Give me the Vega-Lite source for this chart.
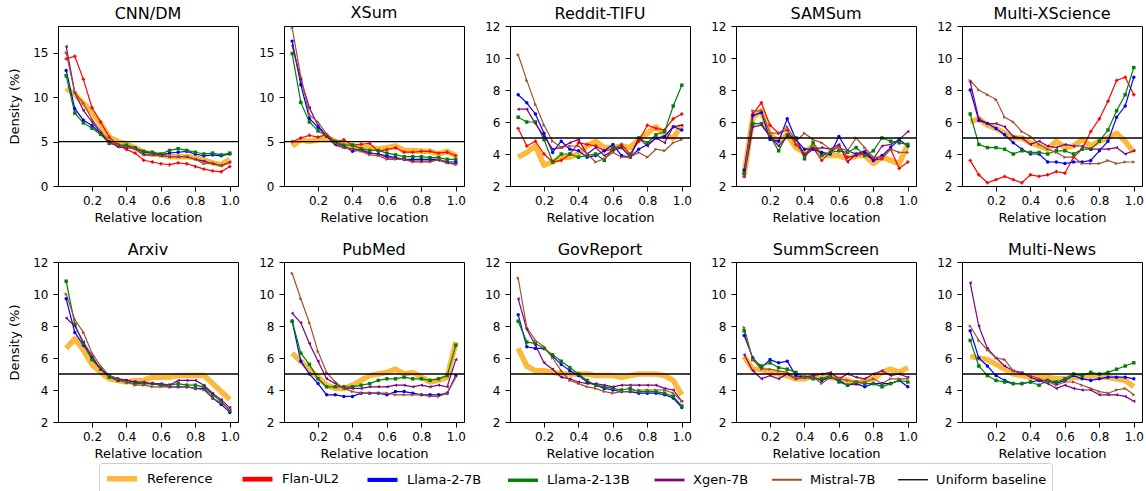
{
"$schema": "https://vega.github.io/schema/vega-lite/v6.json",
"padding": {"left": 8, "top": 4, "right": 4, "bottom": 0},
"config": {
 "font": "DejaVu Sans",
 "view": {"stroke": "#000", "strokeWidth": 1},
 "axis": {"grid": false, "domainColor": "#000", "tickColor": "#000", "labelColor": "#000", "titleColor": "#000", "labelFontSize": 12, "titleFontSize": 13, "titleFontWeight": "normal", "tickSize": 5, "labelOverlap": false, "labelFont": "DejaVu Sans", "titleFont": "DejaVu Sans"},
 "axisX": {"titlePadding": 5, "labelPadding": 4},
 "axisY": {"titlePadding": 11, "labelPadding": 5},
 "title": {"fontSize": 16, "fontWeight": "normal", "font": "DejaVu Sans", "color": "#000", "offset": 4, "frame": "group"},
 "legend": {"orient": "bottom", "direction": "horizontal", "symbolType": "M-1,0H3", "symbolSize": 225, "labelFontSize": 13, "labelFont": "DejaVu Sans", "labelColor": "#000", "columnPadding": 19, "labelOffset": 22, "strokeColor": "#cccccc", "padding": 5, "cornerRadius": 3, "offset": 2, "layout": {"bottom": {"anchor": "middle", "bounds": "full"}}}
},
"datasets": {
"cnndm": [
{"m":"Reference","x":0.05,"y":11.0},{"m":"Reference","x":0.1,"y":10.3},{"m":"Reference","x":0.15,"y":9.3},{"m":"Reference","x":0.2,"y":8.3},{"m":"Reference","x":0.25,"y":7.0},{"m":"Reference","x":0.3,"y":5.5},{"m":"Reference","x":0.35,"y":5.0},{"m":"Reference","x":0.4,"y":4.7},{"m":"Reference","x":0.45,"y":4.3},{"m":"Reference","x":0.5,"y":3.8},{"m":"Reference","x":0.55,"y":3.6},{"m":"Reference","x":0.6,"y":3.5},{"m":"Reference","x":0.65,"y":3.3},{"m":"Reference","x":0.7,"y":3.3},{"m":"Reference","x":0.75,"y":3.3},{"m":"Reference","x":0.8,"y":3.2},{"m":"Reference","x":0.85,"y":2.9},{"m":"Reference","x":0.9,"y":2.6},{"m":"Reference","x":0.95,"y":2.4},{"m":"Reference","x":1,"y":3.0},
{"m":"Flan-UL2","x":0.05,"y":14.3},{"m":"Flan-UL2","x":0.1,"y":14.6},{"m":"Flan-UL2","x":0.15,"y":12.0},{"m":"Flan-UL2","x":0.2,"y":8.8},{"m":"Flan-UL2","x":0.25,"y":7.2},{"m":"Flan-UL2","x":0.3,"y":5.5},{"m":"Flan-UL2","x":0.35,"y":4.6},{"m":"Flan-UL2","x":0.4,"y":4.1},{"m":"Flan-UL2","x":0.45,"y":3.7},{"m":"Flan-UL2","x":0.5,"y":2.9},{"m":"Flan-UL2","x":0.55,"y":2.7},{"m":"Flan-UL2","x":0.6,"y":2.5},{"m":"Flan-UL2","x":0.65,"y":2.4},{"m":"Flan-UL2","x":0.7,"y":2.6},{"m":"Flan-UL2","x":0.75,"y":2.5},{"m":"Flan-UL2","x":0.8,"y":2.2},{"m":"Flan-UL2","x":0.85,"y":1.9},{"m":"Flan-UL2","x":0.9,"y":1.7},{"m":"Flan-UL2","x":0.95,"y":1.6},{"m":"Flan-UL2","x":1,"y":2.2},
{"m":"Llama-2-7B","x":0.05,"y":13.0},{"m":"Llama-2-7B","x":0.1,"y":8.7},{"m":"Llama-2-7B","x":0.15,"y":7.4},{"m":"Llama-2-7B","x":0.2,"y":6.8},{"m":"Llama-2-7B","x":0.25,"y":5.9},{"m":"Llama-2-7B","x":0.3,"y":5.0},{"m":"Llama-2-7B","x":0.35,"y":4.6},{"m":"Llama-2-7B","x":0.4,"y":4.5},{"m":"Llama-2-7B","x":0.45,"y":4.3},{"m":"Llama-2-7B","x":0.5,"y":3.8},{"m":"Llama-2-7B","x":0.55,"y":3.7},{"m":"Llama-2-7B","x":0.6,"y":3.5},{"m":"Llama-2-7B","x":0.65,"y":3.7},{"m":"Llama-2-7B","x":0.7,"y":3.8},{"m":"Llama-2-7B","x":0.75,"y":3.9},{"m":"Llama-2-7B","x":0.8,"y":3.6},{"m":"Llama-2-7B","x":0.85,"y":3.4},{"m":"Llama-2-7B","x":0.9,"y":3.5},{"m":"Llama-2-7B","x":0.95,"y":3.4},{"m":"Llama-2-7B","x":1,"y":3.6},
{"m":"Llama-2-13B","x":0.05,"y":12.4},{"m":"Llama-2-13B","x":0.1,"y":8.2},{"m":"Llama-2-13B","x":0.15,"y":7.1},{"m":"Llama-2-13B","x":0.2,"y":6.5},{"m":"Llama-2-13B","x":0.25,"y":5.8},{"m":"Llama-2-13B","x":0.3,"y":4.8},{"m":"Llama-2-13B","x":0.35,"y":4.6},{"m":"Llama-2-13B","x":0.4,"y":4.6},{"m":"Llama-2-13B","x":0.45,"y":4.3},{"m":"Llama-2-13B","x":0.5,"y":3.9},{"m":"Llama-2-13B","x":0.55,"y":3.8},{"m":"Llama-2-13B","x":0.6,"y":3.6},{"m":"Llama-2-13B","x":0.65,"y":4.0},{"m":"Llama-2-13B","x":0.7,"y":4.2},{"m":"Llama-2-13B","x":0.75,"y":4.0},{"m":"Llama-2-13B","x":0.8,"y":3.8},{"m":"Llama-2-13B","x":0.85,"y":3.6},{"m":"Llama-2-13B","x":0.9,"y":3.7},{"m":"Llama-2-13B","x":0.95,"y":3.5},{"m":"Llama-2-13B","x":1,"y":3.7},
{"m":"Xgen-7B","x":0.05,"y":15.7},{"m":"Xgen-7B","x":0.1,"y":10.5},{"m":"Xgen-7B","x":0.15,"y":8.5},{"m":"Xgen-7B","x":0.2,"y":7.2},{"m":"Xgen-7B","x":0.25,"y":6.0},{"m":"Xgen-7B","x":0.3,"y":5.0},{"m":"Xgen-7B","x":0.35,"y":4.4},{"m":"Xgen-7B","x":0.4,"y":4.3},{"m":"Xgen-7B","x":0.45,"y":4.2},{"m":"Xgen-7B","x":0.5,"y":3.5},{"m":"Xgen-7B","x":0.55,"y":3.5},{"m":"Xgen-7B","x":0.6,"y":3.4},{"m":"Xgen-7B","x":0.65,"y":3.3},{"m":"Xgen-7B","x":0.7,"y":3.3},{"m":"Xgen-7B","x":0.75,"y":3.3},{"m":"Xgen-7B","x":0.8,"y":3.0},{"m":"Xgen-7B","x":0.85,"y":2.8},{"m":"Xgen-7B","x":0.9,"y":2.5},{"m":"Xgen-7B","x":0.95,"y":2.3},{"m":"Xgen-7B","x":1,"y":2.7},
{"m":"Mistral-7B","x":0.05,"y":15.0},{"m":"Mistral-7B","x":0.1,"y":10.5},{"m":"Mistral-7B","x":0.15,"y":9.3},{"m":"Mistral-7B","x":0.2,"y":7.5},{"m":"Mistral-7B","x":0.25,"y":6.2},{"m":"Mistral-7B","x":0.3,"y":5.0},{"m":"Mistral-7B","x":0.35,"y":4.6},{"m":"Mistral-7B","x":0.4,"y":4.4},{"m":"Mistral-7B","x":0.45,"y":4.2},{"m":"Mistral-7B","x":0.5,"y":3.5},{"m":"Mistral-7B","x":0.55,"y":3.5},{"m":"Mistral-7B","x":0.6,"y":3.4},{"m":"Mistral-7B","x":0.65,"y":3.3},{"m":"Mistral-7B","x":0.7,"y":3.3},{"m":"Mistral-7B","x":0.75,"y":3.3},{"m":"Mistral-7B","x":0.8,"y":3.0},{"m":"Mistral-7B","x":0.85,"y":2.5},{"m":"Mistral-7B","x":0.9,"y":2.6},{"m":"Mistral-7B","x":0.95,"y":2.3},{"m":"Mistral-7B","x":1,"y":2.6}
],
"xsum": [
{"m":"Reference","x":0.05,"y":4.5},{"m":"Reference","x":0.1,"y":5.2},{"m":"Reference","x":0.15,"y":5.0},{"m":"Reference","x":0.2,"y":5.2},{"m":"Reference","x":0.25,"y":5.5},{"m":"Reference","x":0.3,"y":5.0},{"m":"Reference","x":0.35,"y":4.6},{"m":"Reference","x":0.4,"y":4.5},{"m":"Reference","x":0.45,"y":4.4},{"m":"Reference","x":0.5,"y":4.3},{"m":"Reference","x":0.55,"y":4.2},{"m":"Reference","x":0.6,"y":4.3},{"m":"Reference","x":0.65,"y":4.5},{"m":"Reference","x":0.7,"y":4.0},{"m":"Reference","x":0.75,"y":4.0},{"m":"Reference","x":0.8,"y":3.9},{"m":"Reference","x":0.85,"y":3.9},{"m":"Reference","x":0.9,"y":3.6},{"m":"Reference","x":0.95,"y":3.9},{"m":"Reference","x":1,"y":3.4},
{"m":"Flan-UL2","x":0.05,"y":5.0},{"m":"Flan-UL2","x":0.1,"y":5.4},{"m":"Flan-UL2","x":0.15,"y":5.7},{"m":"Flan-UL2","x":0.2,"y":5.5},{"m":"Flan-UL2","x":0.25,"y":5.8},{"m":"Flan-UL2","x":0.3,"y":5.0},{"m":"Flan-UL2","x":0.35,"y":5.2},{"m":"Flan-UL2","x":0.4,"y":4.6},{"m":"Flan-UL2","x":0.45,"y":4.7},{"m":"Flan-UL2","x":0.5,"y":4.8},{"m":"Flan-UL2","x":0.55,"y":3.9},{"m":"Flan-UL2","x":0.6,"y":4.1},{"m":"Flan-UL2","x":0.65,"y":4.3},{"m":"Flan-UL2","x":0.7,"y":3.8},{"m":"Flan-UL2","x":0.75,"y":3.8},{"m":"Flan-UL2","x":0.8,"y":3.9},{"m":"Flan-UL2","x":0.85,"y":3.9},{"m":"Flan-UL2","x":0.9,"y":3.7},{"m":"Flan-UL2","x":0.95,"y":3.8},{"m":"Flan-UL2","x":1,"y":3.4},
{"m":"Llama-2-7B","x":0.05,"y":16.3},{"m":"Llama-2-7B","x":0.1,"y":11.4},{"m":"Llama-2-7B","x":0.15,"y":7.6},{"m":"Llama-2-7B","x":0.2,"y":6.6},{"m":"Llama-2-7B","x":0.25,"y":5.6},{"m":"Llama-2-7B","x":0.3,"y":4.8},{"m":"Llama-2-7B","x":0.35,"y":4.5},{"m":"Llama-2-7B","x":0.4,"y":3.9},{"m":"Llama-2-7B","x":0.45,"y":4.1},{"m":"Llama-2-7B","x":0.5,"y":3.7},{"m":"Llama-2-7B","x":0.55,"y":3.6},{"m":"Llama-2-7B","x":0.6,"y":3.4},{"m":"Llama-2-7B","x":0.65,"y":3.2},{"m":"Llama-2-7B","x":0.7,"y":3.0},{"m":"Llama-2-7B","x":0.75,"y":3.0},{"m":"Llama-2-7B","x":0.8,"y":3.0},{"m":"Llama-2-7B","x":0.85,"y":3.0},{"m":"Llama-2-7B","x":0.9,"y":3.0},{"m":"Llama-2-7B","x":0.95,"y":2.7},{"m":"Llama-2-7B","x":1,"y":2.7},
{"m":"Llama-2-13B","x":0.05,"y":14.9},{"m":"Llama-2-13B","x":0.1,"y":9.4},{"m":"Llama-2-13B","x":0.15,"y":7.2},{"m":"Llama-2-13B","x":0.2,"y":6.2},{"m":"Llama-2-13B","x":0.25,"y":5.6},{"m":"Llama-2-13B","x":0.3,"y":5.0},{"m":"Llama-2-13B","x":0.35,"y":4.6},{"m":"Llama-2-13B","x":0.4,"y":4.6},{"m":"Llama-2-13B","x":0.45,"y":4.2},{"m":"Llama-2-13B","x":0.5,"y":4.0},{"m":"Llama-2-13B","x":0.55,"y":4.0},{"m":"Llama-2-13B","x":0.6,"y":3.7},{"m":"Llama-2-13B","x":0.65,"y":3.5},{"m":"Llama-2-13B","x":0.7,"y":3.3},{"m":"Llama-2-13B","x":0.75,"y":3.3},{"m":"Llama-2-13B","x":0.8,"y":3.3},{"m":"Llama-2-13B","x":0.85,"y":3.2},{"m":"Llama-2-13B","x":0.9,"y":3.2},{"m":"Llama-2-13B","x":0.95,"y":3.0},{"m":"Llama-2-13B","x":1,"y":3.0},
{"m":"Xgen-7B","x":0.05,"y":15.8},{"m":"Xgen-7B","x":0.1,"y":12.0},{"m":"Xgen-7B","x":0.15,"y":8.8},{"m":"Xgen-7B","x":0.2,"y":6.8},{"m":"Xgen-7B","x":0.25,"y":5.6},{"m":"Xgen-7B","x":0.3,"y":4.6},{"m":"Xgen-7B","x":0.35,"y":4.3},{"m":"Xgen-7B","x":0.4,"y":4.2},{"m":"Xgen-7B","x":0.45,"y":4.0},{"m":"Xgen-7B","x":0.5,"y":3.7},{"m":"Xgen-7B","x":0.55,"y":3.6},{"m":"Xgen-7B","x":0.6,"y":3.2},{"m":"Xgen-7B","x":0.65,"y":3.1},{"m":"Xgen-7B","x":0.7,"y":3.0},{"m":"Xgen-7B","x":0.75,"y":2.8},{"m":"Xgen-7B","x":0.8,"y":2.8},{"m":"Xgen-7B","x":0.85,"y":2.8},{"m":"Xgen-7B","x":0.9,"y":2.9},{"m":"Xgen-7B","x":0.95,"y":2.6},{"m":"Xgen-7B","x":1,"y":2.5},
{"m":"Mistral-7B","x":0.05,"y":17.8},{"m":"Mistral-7B","x":0.1,"y":12.3},{"m":"Mistral-7B","x":0.15,"y":8.0},{"m":"Mistral-7B","x":0.2,"y":7.2},{"m":"Mistral-7B","x":0.25,"y":5.8},{"m":"Mistral-7B","x":0.3,"y":4.8},{"m":"Mistral-7B","x":0.35,"y":4.3},{"m":"Mistral-7B","x":0.4,"y":4.1},{"m":"Mistral-7B","x":0.45,"y":3.9},{"m":"Mistral-7B","x":0.5,"y":3.5},{"m":"Mistral-7B","x":0.55,"y":3.4},{"m":"Mistral-7B","x":0.6,"y":3.0},{"m":"Mistral-7B","x":0.65,"y":3.0},{"m":"Mistral-7B","x":0.7,"y":3.0},{"m":"Mistral-7B","x":0.75,"y":2.7},{"m":"Mistral-7B","x":0.8,"y":2.7},{"m":"Mistral-7B","x":0.85,"y":2.7},{"m":"Mistral-7B","x":0.9,"y":3.0},{"m":"Mistral-7B","x":0.95,"y":2.6},{"m":"Mistral-7B","x":1,"y":2.4}
],
"reddit": [
{"m":"Reference","x":0.05,"y":3.8},{"m":"Reference","x":0.1,"y":4.1},{"m":"Reference","x":0.15,"y":4.5},{"m":"Reference","x":0.2,"y":3.3},{"m":"Reference","x":0.25,"y":3.5},{"m":"Reference","x":0.3,"y":3.8},{"m":"Reference","x":0.35,"y":3.8},{"m":"Reference","x":0.4,"y":4.0},{"m":"Reference","x":0.45,"y":4.5},{"m":"Reference","x":0.5,"y":4.8},{"m":"Reference","x":0.55,"y":4.4},{"m":"Reference","x":0.6,"y":4.4},{"m":"Reference","x":0.65,"y":4.5},{"m":"Reference","x":0.7,"y":4.4},{"m":"Reference","x":0.75,"y":4.9},{"m":"Reference","x":0.8,"y":5.3},{"m":"Reference","x":0.85,"y":5.7},{"m":"Reference","x":0.9,"y":5.2},{"m":"Reference","x":0.95,"y":5.0},{"m":"Reference","x":1,"y":5.8},
{"m":"Flan-UL2","x":0.05,"y":5.6},{"m":"Flan-UL2","x":0.1,"y":4.5},{"m":"Flan-UL2","x":0.15,"y":4.8},{"m":"Flan-UL2","x":0.2,"y":4.0},{"m":"Flan-UL2","x":0.25,"y":3.5},{"m":"Flan-UL2","x":0.3,"y":3.6},{"m":"Flan-UL2","x":0.35,"y":4.0},{"m":"Flan-UL2","x":0.4,"y":4.7},{"m":"Flan-UL2","x":0.45,"y":4.6},{"m":"Flan-UL2","x":0.5,"y":4.5},{"m":"Flan-UL2","x":0.55,"y":4.2},{"m":"Flan-UL2","x":0.6,"y":4.3},{"m":"Flan-UL2","x":0.65,"y":4.6},{"m":"Flan-UL2","x":0.7,"y":4.0},{"m":"Flan-UL2","x":0.75,"y":4.8},{"m":"Flan-UL2","x":0.8,"y":5.8},{"m":"Flan-UL2","x":0.85,"y":5.6},{"m":"Flan-UL2","x":0.9,"y":5.5},{"m":"Flan-UL2","x":0.95,"y":6.2},{"m":"Flan-UL2","x":1,"y":6.5},
{"m":"Llama-2-7B","x":0.05,"y":7.7},{"m":"Llama-2-7B","x":0.1,"y":7.2},{"m":"Llama-2-7B","x":0.15,"y":6.5},{"m":"Llama-2-7B","x":0.2,"y":5.3},{"m":"Llama-2-7B","x":0.25,"y":4.1},{"m":"Llama-2-7B","x":0.3,"y":4.8},{"m":"Llama-2-7B","x":0.35,"y":4.3},{"m":"Llama-2-7B","x":0.4,"y":4.2},{"m":"Llama-2-7B","x":0.45,"y":3.8},{"m":"Llama-2-7B","x":0.5,"y":3.9},{"m":"Llama-2-7B","x":0.55,"y":4.2},{"m":"Llama-2-7B","x":0.6,"y":4.6},{"m":"Llama-2-7B","x":0.65,"y":3.9},{"m":"Llama-2-7B","x":0.7,"y":3.8},{"m":"Llama-2-7B","x":0.75,"y":4.3},{"m":"Llama-2-7B","x":0.8,"y":4.6},{"m":"Llama-2-7B","x":0.85,"y":5.0},{"m":"Llama-2-7B","x":0.9,"y":5.1},{"m":"Llama-2-7B","x":0.95,"y":5.7},{"m":"Llama-2-7B","x":1,"y":5.5},
{"m":"Llama-2-13B","x":0.05,"y":6.3},{"m":"Llama-2-13B","x":0.1,"y":6.0},{"m":"Llama-2-13B","x":0.15,"y":6.0},{"m":"Llama-2-13B","x":0.2,"y":4.9},{"m":"Llama-2-13B","x":0.25,"y":3.5},{"m":"Llama-2-13B","x":0.3,"y":4.0},{"m":"Llama-2-13B","x":0.35,"y":4.0},{"m":"Llama-2-13B","x":0.4,"y":3.8},{"m":"Llama-2-13B","x":0.45,"y":3.9},{"m":"Llama-2-13B","x":0.5,"y":4.0},{"m":"Llama-2-13B","x":0.55,"y":3.6},{"m":"Llama-2-13B","x":0.6,"y":4.4},{"m":"Llama-2-13B","x":0.65,"y":4.4},{"m":"Llama-2-13B","x":0.7,"y":3.9},{"m":"Llama-2-13B","x":0.75,"y":5.0},{"m":"Llama-2-13B","x":0.8,"y":4.7},{"m":"Llama-2-13B","x":0.85,"y":5.2},{"m":"Llama-2-13B","x":0.9,"y":5.4},{"m":"Llama-2-13B","x":0.95,"y":7.0},{"m":"Llama-2-13B","x":1,"y":8.3},
{"m":"Xgen-7B","x":0.05,"y":6.8},{"m":"Xgen-7B","x":0.1,"y":6.8},{"m":"Xgen-7B","x":0.15,"y":5.9},{"m":"Xgen-7B","x":0.2,"y":5.1},{"m":"Xgen-7B","x":0.25,"y":4.3},{"m":"Xgen-7B","x":0.3,"y":4.4},{"m":"Xgen-7B","x":0.35,"y":4.7},{"m":"Xgen-7B","x":0.4,"y":4.9},{"m":"Xgen-7B","x":0.45,"y":4.0},{"m":"Xgen-7B","x":0.5,"y":4.4},{"m":"Xgen-7B","x":0.55,"y":3.9},{"m":"Xgen-7B","x":0.6,"y":4.2},{"m":"Xgen-7B","x":0.65,"y":4.4},{"m":"Xgen-7B","x":0.7,"y":3.8},{"m":"Xgen-7B","x":0.75,"y":5.0},{"m":"Xgen-7B","x":0.8,"y":4.5},{"m":"Xgen-7B","x":0.85,"y":5.0},{"m":"Xgen-7B","x":0.9,"y":4.7},{"m":"Xgen-7B","x":0.95,"y":5.7},{"m":"Xgen-7B","x":1,"y":5.8},
{"m":"Mistral-7B","x":0.05,"y":10.2},{"m":"Mistral-7B","x":0.1,"y":8.6},{"m":"Mistral-7B","x":0.15,"y":7.1},{"m":"Mistral-7B","x":0.2,"y":5.8},{"m":"Mistral-7B","x":0.25,"y":4.8},{"m":"Mistral-7B","x":0.3,"y":4.4},{"m":"Mistral-7B","x":0.35,"y":4.5},{"m":"Mistral-7B","x":0.4,"y":4.5},{"m":"Mistral-7B","x":0.45,"y":4.0},{"m":"Mistral-7B","x":0.5,"y":3.5},{"m":"Mistral-7B","x":0.55,"y":3.7},{"m":"Mistral-7B","x":0.6,"y":4.1},{"m":"Mistral-7B","x":0.65,"y":3.8},{"m":"Mistral-7B","x":0.7,"y":3.8},{"m":"Mistral-7B","x":0.75,"y":4.1},{"m":"Mistral-7B","x":0.8,"y":3.8},{"m":"Mistral-7B","x":0.85,"y":4.3},{"m":"Mistral-7B","x":0.9,"y":4.2},{"m":"Mistral-7B","x":0.95,"y":4.7},{"m":"Mistral-7B","x":1,"y":4.9}
],
"samsum": [
{"m":"Reference","x":0.05,"y":2.7},{"m":"Reference","x":0.1,"y":6.3},{"m":"Reference","x":0.15,"y":6.7},{"m":"Reference","x":0.2,"y":5.2},{"m":"Reference","x":0.25,"y":4.8},{"m":"Reference","x":0.3,"y":5.2},{"m":"Reference","x":0.35,"y":4.4},{"m":"Reference","x":0.4,"y":4.1},{"m":"Reference","x":0.45,"y":4.5},{"m":"Reference","x":0.5,"y":4.0},{"m":"Reference","x":0.55,"y":3.9},{"m":"Reference","x":0.6,"y":3.9},{"m":"Reference","x":0.65,"y":3.7},{"m":"Reference","x":0.7,"y":3.9},{"m":"Reference","x":0.75,"y":3.9},{"m":"Reference","x":0.8,"y":3.4},{"m":"Reference","x":0.85,"y":3.8},{"m":"Reference","x":0.9,"y":3.6},{"m":"Reference","x":0.95,"y":3.4},{"m":"Reference","x":1,"y":4.6},
{"m":"Flan-UL2","x":0.05,"y":2.6},{"m":"Flan-UL2","x":0.1,"y":6.5},{"m":"Flan-UL2","x":0.15,"y":7.2},{"m":"Flan-UL2","x":0.2,"y":5.8},{"m":"Flan-UL2","x":0.25,"y":5.3},{"m":"Flan-UL2","x":0.3,"y":5.5},{"m":"Flan-UL2","x":0.35,"y":4.6},{"m":"Flan-UL2","x":0.4,"y":4.0},{"m":"Flan-UL2","x":0.45,"y":4.4},{"m":"Flan-UL2","x":0.5,"y":3.6},{"m":"Flan-UL2","x":0.55,"y":4.1},{"m":"Flan-UL2","x":0.6,"y":4.5},{"m":"Flan-UL2","x":0.65,"y":3.8},{"m":"Flan-UL2","x":0.7,"y":3.9},{"m":"Flan-UL2","x":0.75,"y":4.0},{"m":"Flan-UL2","x":0.8,"y":3.6},{"m":"Flan-UL2","x":0.85,"y":3.7},{"m":"Flan-UL2","x":0.9,"y":4.3},{"m":"Flan-UL2","x":0.95,"y":3.1},{"m":"Flan-UL2","x":1,"y":3.5},
{"m":"Llama-2-7B","x":0.05,"y":3.0},{"m":"Llama-2-7B","x":0.1,"y":6.4},{"m":"Llama-2-7B","x":0.15,"y":6.6},{"m":"Llama-2-7B","x":0.2,"y":4.9},{"m":"Llama-2-7B","x":0.25,"y":4.8},{"m":"Llama-2-7B","x":0.3,"y":6.2},{"m":"Llama-2-7B","x":0.35,"y":4.9},{"m":"Llama-2-7B","x":0.4,"y":4.3},{"m":"Llama-2-7B","x":0.45,"y":4.3},{"m":"Llama-2-7B","x":0.5,"y":4.1},{"m":"Llama-2-7B","x":0.55,"y":4.0},{"m":"Llama-2-7B","x":0.6,"y":5.1},{"m":"Llama-2-7B","x":0.65,"y":4.2},{"m":"Llama-2-7B","x":0.7,"y":4.0},{"m":"Llama-2-7B","x":0.75,"y":4.1},{"m":"Llama-2-7B","x":0.8,"y":3.6},{"m":"Llama-2-7B","x":0.85,"y":3.9},{"m":"Llama-2-7B","x":0.9,"y":4.4},{"m":"Llama-2-7B","x":0.95,"y":4.9},{"m":"Llama-2-7B","x":1,"y":4.5},
{"m":"Llama-2-13B","x":0.05,"y":2.8},{"m":"Llama-2-13B","x":0.1,"y":5.9},{"m":"Llama-2-13B","x":0.15,"y":5.9},{"m":"Llama-2-13B","x":0.2,"y":5.1},{"m":"Llama-2-13B","x":0.25,"y":4.2},{"m":"Llama-2-13B","x":0.3,"y":5.2},{"m":"Llama-2-13B","x":0.35,"y":5.0},{"m":"Llama-2-13B","x":0.4,"y":3.7},{"m":"Llama-2-13B","x":0.45,"y":4.7},{"m":"Llama-2-13B","x":0.5,"y":3.9},{"m":"Llama-2-13B","x":0.55,"y":4.1},{"m":"Llama-2-13B","x":0.6,"y":4.2},{"m":"Llama-2-13B","x":0.65,"y":4.1},{"m":"Llama-2-13B","x":0.7,"y":4.4},{"m":"Llama-2-13B","x":0.75,"y":3.9},{"m":"Llama-2-13B","x":0.8,"y":4.2},{"m":"Llama-2-13B","x":0.85,"y":5.0},{"m":"Llama-2-13B","x":0.9,"y":4.8},{"m":"Llama-2-13B","x":0.95,"y":4.7},{"m":"Llama-2-13B","x":1,"y":4.6},
{"m":"Xgen-7B","x":0.05,"y":2.6},{"m":"Xgen-7B","x":0.1,"y":5.7},{"m":"Xgen-7B","x":0.15,"y":5.8},{"m":"Xgen-7B","x":0.2,"y":5.1},{"m":"Xgen-7B","x":0.25,"y":4.5},{"m":"Xgen-7B","x":0.3,"y":5.1},{"m":"Xgen-7B","x":0.35,"y":5.0},{"m":"Xgen-7B","x":0.4,"y":3.9},{"m":"Xgen-7B","x":0.45,"y":4.3},{"m":"Xgen-7B","x":0.5,"y":4.4},{"m":"Xgen-7B","x":0.55,"y":4.3},{"m":"Xgen-7B","x":0.6,"y":4.6},{"m":"Xgen-7B","x":0.65,"y":3.5},{"m":"Xgen-7B","x":0.7,"y":4.0},{"m":"Xgen-7B","x":0.75,"y":4.2},{"m":"Xgen-7B","x":0.8,"y":3.7},{"m":"Xgen-7B","x":0.85,"y":4.5},{"m":"Xgen-7B","x":0.9,"y":4.6},{"m":"Xgen-7B","x":0.95,"y":4.9},{"m":"Xgen-7B","x":1,"y":5.4},
{"m":"Mistral-7B","x":0.05,"y":2.6},{"m":"Mistral-7B","x":0.1,"y":6.7},{"m":"Mistral-7B","x":0.15,"y":6.7},{"m":"Mistral-7B","x":0.2,"y":5.3},{"m":"Mistral-7B","x":0.25,"y":5.3},{"m":"Mistral-7B","x":0.3,"y":5.7},{"m":"Mistral-7B","x":0.35,"y":4.8},{"m":"Mistral-7B","x":0.4,"y":5.3},{"m":"Mistral-7B","x":0.45,"y":4.9},{"m":"Mistral-7B","x":0.5,"y":4.7},{"m":"Mistral-7B","x":0.55,"y":4.3},{"m":"Mistral-7B","x":0.6,"y":4.4},{"m":"Mistral-7B","x":0.65,"y":4.2},{"m":"Mistral-7B","x":0.7,"y":5.0},{"m":"Mistral-7B","x":0.75,"y":4.4},{"m":"Mistral-7B","x":0.8,"y":3.8},{"m":"Mistral-7B","x":0.85,"y":3.8},{"m":"Mistral-7B","x":0.9,"y":4.3},{"m":"Mistral-7B","x":0.95,"y":4.1},{"m":"Mistral-7B","x":1,"y":4.1}
],
"mxs": [
{"m":"Reference","x":0.05,"y":6.0},{"m":"Reference","x":0.1,"y":6.2},{"m":"Reference","x":0.15,"y":5.8},{"m":"Reference","x":0.2,"y":5.6},{"m":"Reference","x":0.25,"y":5.3},{"m":"Reference","x":0.3,"y":5.0},{"m":"Reference","x":0.35,"y":5.0},{"m":"Reference","x":0.4,"y":4.7},{"m":"Reference","x":0.45,"y":4.5},{"m":"Reference","x":0.5,"y":4.3},{"m":"Reference","x":0.55,"y":4.8},{"m":"Reference","x":0.6,"y":4.4},{"m":"Reference","x":0.65,"y":4.5},{"m":"Reference","x":0.7,"y":4.9},{"m":"Reference","x":0.75,"y":4.5},{"m":"Reference","x":0.8,"y":4.8},{"m":"Reference","x":0.85,"y":5.0},{"m":"Reference","x":0.9,"y":5.3},{"m":"Reference","x":0.95,"y":4.8},{"m":"Reference","x":1,"y":4.1},
{"m":"Flan-UL2","x":0.05,"y":3.6},{"m":"Flan-UL2","x":0.1,"y":2.7},{"m":"Flan-UL2","x":0.15,"y":2.2},{"m":"Flan-UL2","x":0.2,"y":2.4},{"m":"Flan-UL2","x":0.25,"y":2.6},{"m":"Flan-UL2","x":0.3,"y":2.4},{"m":"Flan-UL2","x":0.35,"y":2.2},{"m":"Flan-UL2","x":0.4,"y":2.7},{"m":"Flan-UL2","x":0.45,"y":2.6},{"m":"Flan-UL2","x":0.5,"y":2.7},{"m":"Flan-UL2","x":0.55,"y":2.9},{"m":"Flan-UL2","x":0.6,"y":2.8},{"m":"Flan-UL2","x":0.65,"y":3.8},{"m":"Flan-UL2","x":0.7,"y":4.3},{"m":"Flan-UL2","x":0.75,"y":5.4},{"m":"Flan-UL2","x":0.8,"y":6.2},{"m":"Flan-UL2","x":0.85,"y":7.3},{"m":"Flan-UL2","x":0.9,"y":8.6},{"m":"Flan-UL2","x":0.95,"y":8.8},{"m":"Flan-UL2","x":1,"y":7.7},
{"m":"Llama-2-7B","x":0.05,"y":8.0},{"m":"Llama-2-7B","x":0.1,"y":6.1},{"m":"Llama-2-7B","x":0.15,"y":5.9},{"m":"Llama-2-7B","x":0.2,"y":5.6},{"m":"Llama-2-7B","x":0.25,"y":5.2},{"m":"Llama-2-7B","x":0.3,"y":4.7},{"m":"Llama-2-7B","x":0.35,"y":4.3},{"m":"Llama-2-7B","x":0.4,"y":4.0},{"m":"Llama-2-7B","x":0.45,"y":4.0},{"m":"Llama-2-7B","x":0.5,"y":3.5},{"m":"Llama-2-7B","x":0.55,"y":3.5},{"m":"Llama-2-7B","x":0.6,"y":3.4},{"m":"Llama-2-7B","x":0.65,"y":3.5},{"m":"Llama-2-7B","x":0.7,"y":3.5},{"m":"Llama-2-7B","x":0.75,"y":3.6},{"m":"Llama-2-7B","x":0.8,"y":4.2},{"m":"Llama-2-7B","x":0.85,"y":4.8},{"m":"Llama-2-7B","x":0.9,"y":6.3},{"m":"Llama-2-7B","x":0.95,"y":7.0},{"m":"Llama-2-7B","x":1,"y":8.8},
{"m":"Llama-2-13B","x":0.05,"y":6.5},{"m":"Llama-2-13B","x":0.1,"y":4.6},{"m":"Llama-2-13B","x":0.15,"y":4.4},{"m":"Llama-2-13B","x":0.2,"y":4.4},{"m":"Llama-2-13B","x":0.25,"y":4.3},{"m":"Llama-2-13B","x":0.3,"y":4.0},{"m":"Llama-2-13B","x":0.35,"y":4.2},{"m":"Llama-2-13B","x":0.4,"y":4.1},{"m":"Llama-2-13B","x":0.45,"y":4.1},{"m":"Llama-2-13B","x":0.5,"y":4.0},{"m":"Llama-2-13B","x":0.55,"y":4.2},{"m":"Llama-2-13B","x":0.6,"y":4.2},{"m":"Llama-2-13B","x":0.65,"y":4.0},{"m":"Llama-2-13B","x":0.7,"y":4.3},{"m":"Llama-2-13B","x":0.75,"y":4.3},{"m":"Llama-2-13B","x":0.8,"y":4.8},{"m":"Llama-2-13B","x":0.85,"y":5.5},{"m":"Llama-2-13B","x":0.9,"y":6.7},{"m":"Llama-2-13B","x":0.95,"y":7.7},{"m":"Llama-2-13B","x":1,"y":9.4},
{"m":"Xgen-7B","x":0.05,"y":8.5},{"m":"Xgen-7B","x":0.1,"y":6.2},{"m":"Xgen-7B","x":0.15,"y":5.9},{"m":"Xgen-7B","x":0.2,"y":5.9},{"m":"Xgen-7B","x":0.25,"y":5.7},{"m":"Xgen-7B","x":0.3,"y":5.1},{"m":"Xgen-7B","x":0.35,"y":5.0},{"m":"Xgen-7B","x":0.4,"y":4.6},{"m":"Xgen-7B","x":0.45,"y":4.8},{"m":"Xgen-7B","x":0.5,"y":4.5},{"m":"Xgen-7B","x":0.55,"y":4.4},{"m":"Xgen-7B","x":0.6,"y":4.6},{"m":"Xgen-7B","x":0.65,"y":4.5},{"m":"Xgen-7B","x":0.7,"y":4.5},{"m":"Xgen-7B","x":0.75,"y":4.3},{"m":"Xgen-7B","x":0.8,"y":4.3},{"m":"Xgen-7B","x":0.85,"y":4.3},{"m":"Xgen-7B","x":0.9,"y":4.4},{"m":"Xgen-7B","x":0.95,"y":4.0},{"m":"Xgen-7B","x":1,"y":4.2},
{"m":"Mistral-7B","x":0.05,"y":8.6},{"m":"Mistral-7B","x":0.1,"y":8.0},{"m":"Mistral-7B","x":0.15,"y":7.7},{"m":"Mistral-7B","x":0.2,"y":7.4},{"m":"Mistral-7B","x":0.25,"y":6.3},{"m":"Mistral-7B","x":0.3,"y":6.0},{"m":"Mistral-7B","x":0.35,"y":5.4},{"m":"Mistral-7B","x":0.4,"y":5.1},{"m":"Mistral-7B","x":0.45,"y":4.6},{"m":"Mistral-7B","x":0.5,"y":4.3},{"m":"Mistral-7B","x":0.55,"y":4.1},{"m":"Mistral-7B","x":0.6,"y":3.8},{"m":"Mistral-7B","x":0.65,"y":3.8},{"m":"Mistral-7B","x":0.7,"y":3.4},{"m":"Mistral-7B","x":0.75,"y":3.4},{"m":"Mistral-7B","x":0.8,"y":3.4},{"m":"Mistral-7B","x":0.85,"y":3.6},{"m":"Mistral-7B","x":0.9,"y":3.4},{"m":"Mistral-7B","x":0.95,"y":3.5},{"m":"Mistral-7B","x":1,"y":3.5}
],
"arxiv": [
{"m":"Reference","x":0.05,"y":6.6},{"m":"Reference","x":0.1,"y":7.2},{"m":"Reference","x":0.15,"y":6.5},{"m":"Reference","x":0.2,"y":5.6},{"m":"Reference","x":0.25,"y":5.1},{"m":"Reference","x":0.3,"y":4.7},{"m":"Reference","x":0.35,"y":4.6},{"m":"Reference","x":0.4,"y":4.5},{"m":"Reference","x":0.45,"y":4.6},{"m":"Reference","x":0.5,"y":4.6},{"m":"Reference","x":0.55,"y":4.8},{"m":"Reference","x":0.6,"y":4.8},{"m":"Reference","x":0.65,"y":4.8},{"m":"Reference","x":0.7,"y":4.9},{"m":"Reference","x":0.75,"y":4.9},{"m":"Reference","x":0.8,"y":4.9},{"m":"Reference","x":0.85,"y":4.9},{"m":"Reference","x":0.9,"y":4.4},{"m":"Reference","x":0.95,"y":3.9},{"m":"Reference","x":1,"y":3.4},
{"m":"Llama-2-7B","x":0.05,"y":9.7},{"m":"Llama-2-7B","x":0.1,"y":7.6},{"m":"Llama-2-7B","x":0.15,"y":6.8},{"m":"Llama-2-7B","x":0.2,"y":6.0},{"m":"Llama-2-7B","x":0.25,"y":5.3},{"m":"Llama-2-7B","x":0.3,"y":4.9},{"m":"Llama-2-7B","x":0.35,"y":4.7},{"m":"Llama-2-7B","x":0.4,"y":4.6},{"m":"Llama-2-7B","x":0.45,"y":4.5},{"m":"Llama-2-7B","x":0.5,"y":4.4},{"m":"Llama-2-7B","x":0.55,"y":4.4},{"m":"Llama-2-7B","x":0.6,"y":4.3},{"m":"Llama-2-7B","x":0.65,"y":4.2},{"m":"Llama-2-7B","x":0.7,"y":4.2},{"m":"Llama-2-7B","x":0.75,"y":4.2},{"m":"Llama-2-7B","x":0.8,"y":4.1},{"m":"Llama-2-7B","x":0.85,"y":4.1},{"m":"Llama-2-7B","x":0.9,"y":3.5},{"m":"Llama-2-7B","x":0.95,"y":3.1},{"m":"Llama-2-7B","x":1,"y":2.6},
{"m":"Llama-2-13B","x":0.05,"y":10.8},{"m":"Llama-2-13B","x":0.1,"y":8.1},{"m":"Llama-2-13B","x":0.15,"y":6.9},{"m":"Llama-2-13B","x":0.2,"y":5.9},{"m":"Llama-2-13B","x":0.25,"y":5.3},{"m":"Llama-2-13B","x":0.3,"y":4.8},{"m":"Llama-2-13B","x":0.35,"y":4.6},{"m":"Llama-2-13B","x":0.4,"y":4.5},{"m":"Llama-2-13B","x":0.45,"y":4.4},{"m":"Llama-2-13B","x":0.5,"y":4.4},{"m":"Llama-2-13B","x":0.55,"y":4.4},{"m":"Llama-2-13B","x":0.6,"y":4.3},{"m":"Llama-2-13B","x":0.65,"y":4.3},{"m":"Llama-2-13B","x":0.7,"y":4.4},{"m":"Llama-2-13B","x":0.75,"y":4.3},{"m":"Llama-2-13B","x":0.8,"y":4.3},{"m":"Llama-2-13B","x":0.85,"y":4.2},{"m":"Llama-2-13B","x":0.9,"y":3.7},{"m":"Llama-2-13B","x":0.95,"y":3.3},{"m":"Llama-2-13B","x":1,"y":2.7},
{"m":"Xgen-7B","x":0.05,"y":8.5},{"m":"Xgen-7B","x":0.1,"y":8.0},{"m":"Xgen-7B","x":0.15,"y":7.0},{"m":"Xgen-7B","x":0.2,"y":6.1},{"m":"Xgen-7B","x":0.25,"y":5.3},{"m":"Xgen-7B","x":0.3,"y":4.9},{"m":"Xgen-7B","x":0.35,"y":4.6},{"m":"Xgen-7B","x":0.4,"y":4.6},{"m":"Xgen-7B","x":0.45,"y":4.5},{"m":"Xgen-7B","x":0.5,"y":4.5},{"m":"Xgen-7B","x":0.55,"y":4.4},{"m":"Xgen-7B","x":0.6,"y":4.4},{"m":"Xgen-7B","x":0.65,"y":4.3},{"m":"Xgen-7B","x":0.7,"y":4.6},{"m":"Xgen-7B","x":0.75,"y":4.6},{"m":"Xgen-7B","x":0.8,"y":4.6},{"m":"Xgen-7B","x":0.85,"y":4.3},{"m":"Xgen-7B","x":0.9,"y":3.8},{"m":"Xgen-7B","x":0.95,"y":3.4},{"m":"Xgen-7B","x":1,"y":2.9},
{"m":"Mistral-7B","x":0.05,"y":10.0},{"m":"Mistral-7B","x":0.1,"y":8.4},{"m":"Mistral-7B","x":0.15,"y":7.6},{"m":"Mistral-7B","x":0.2,"y":6.3},{"m":"Mistral-7B","x":0.25,"y":5.5},{"m":"Mistral-7B","x":0.3,"y":4.9},{"m":"Mistral-7B","x":0.35,"y":4.7},{"m":"Mistral-7B","x":0.4,"y":4.5},{"m":"Mistral-7B","x":0.45,"y":4.3},{"m":"Mistral-7B","x":0.5,"y":4.3},{"m":"Mistral-7B","x":0.55,"y":4.2},{"m":"Mistral-7B","x":0.6,"y":4.2},{"m":"Mistral-7B","x":0.65,"y":4.2},{"m":"Mistral-7B","x":0.7,"y":4.2},{"m":"Mistral-7B","x":0.75,"y":4.2},{"m":"Mistral-7B","x":0.8,"y":4.1},{"m":"Mistral-7B","x":0.85,"y":4.0},{"m":"Mistral-7B","x":0.9,"y":3.5},{"m":"Mistral-7B","x":0.95,"y":3.2},{"m":"Mistral-7B","x":1,"y":2.8}
],
"pubmed": [
{"m":"Reference","x":0.05,"y":6.3},{"m":"Reference","x":0.1,"y":5.8},{"m":"Reference","x":0.15,"y":5.3},{"m":"Reference","x":0.2,"y":4.8},{"m":"Reference","x":0.25,"y":4.3},{"m":"Reference","x":0.3,"y":4.1},{"m":"Reference","x":0.35,"y":4.1},{"m":"Reference","x":0.4,"y":4.3},{"m":"Reference","x":0.45,"y":4.6},{"m":"Reference","x":0.5,"y":4.9},{"m":"Reference","x":0.55,"y":5.0},{"m":"Reference","x":0.6,"y":5.1},{"m":"Reference","x":0.65,"y":5.3},{"m":"Reference","x":0.7,"y":5.0},{"m":"Reference","x":0.75,"y":5.1},{"m":"Reference","x":0.8,"y":4.8},{"m":"Reference","x":0.85,"y":4.5},{"m":"Reference","x":0.9,"y":4.6},{"m":"Reference","x":0.95,"y":4.8},{"m":"Reference","x":1,"y":7.0},
{"m":"Llama-2-7B","x":0.05,"y":8.3},{"m":"Llama-2-7B","x":0.1,"y":5.8},{"m":"Llama-2-7B","x":0.15,"y":5.0},{"m":"Llama-2-7B","x":0.2,"y":4.4},{"m":"Llama-2-7B","x":0.25,"y":3.7},{"m":"Llama-2-7B","x":0.3,"y":3.7},{"m":"Llama-2-7B","x":0.35,"y":3.6},{"m":"Llama-2-7B","x":0.4,"y":3.6},{"m":"Llama-2-7B","x":0.45,"y":3.8},{"m":"Llama-2-7B","x":0.5,"y":3.8},{"m":"Llama-2-7B","x":0.55,"y":3.8},{"m":"Llama-2-7B","x":0.6,"y":3.7},{"m":"Llama-2-7B","x":0.65,"y":3.9},{"m":"Llama-2-7B","x":0.7,"y":3.9},{"m":"Llama-2-7B","x":0.75,"y":3.8},{"m":"Llama-2-7B","x":0.8,"y":3.7},{"m":"Llama-2-7B","x":0.85,"y":3.7},{"m":"Llama-2-7B","x":0.9,"y":3.7},{"m":"Llama-2-7B","x":0.95,"y":3.8},{"m":"Llama-2-7B","x":1,"y":4.9},
{"m":"Llama-2-13B","x":0.05,"y":8.3},{"m":"Llama-2-13B","x":0.1,"y":6.3},{"m":"Llama-2-13B","x":0.15,"y":5.6},{"m":"Llama-2-13B","x":0.2,"y":4.7},{"m":"Llama-2-13B","x":0.25,"y":4.2},{"m":"Llama-2-13B","x":0.3,"y":4.2},{"m":"Llama-2-13B","x":0.35,"y":4.2},{"m":"Llama-2-13B","x":0.4,"y":4.2},{"m":"Llama-2-13B","x":0.45,"y":4.3},{"m":"Llama-2-13B","x":0.5,"y":4.4},{"m":"Llama-2-13B","x":0.55,"y":4.6},{"m":"Llama-2-13B","x":0.6,"y":4.7},{"m":"Llama-2-13B","x":0.65,"y":4.7},{"m":"Llama-2-13B","x":0.7,"y":4.8},{"m":"Llama-2-13B","x":0.75,"y":4.7},{"m":"Llama-2-13B","x":0.8,"y":4.7},{"m":"Llama-2-13B","x":0.85,"y":4.6},{"m":"Llama-2-13B","x":0.9,"y":4.7},{"m":"Llama-2-13B","x":0.95,"y":4.9},{"m":"Llama-2-13B","x":1,"y":6.8},
{"m":"Xgen-7B","x":0.05,"y":8.8},{"m":"Xgen-7B","x":0.1,"y":8.2},{"m":"Xgen-7B","x":0.15,"y":6.9},{"m":"Xgen-7B","x":0.2,"y":5.8},{"m":"Xgen-7B","x":0.25,"y":4.7},{"m":"Xgen-7B","x":0.3,"y":4.4},{"m":"Xgen-7B","x":0.35,"y":4.1},{"m":"Xgen-7B","x":0.4,"y":4.1},{"m":"Xgen-7B","x":0.45,"y":4.1},{"m":"Xgen-7B","x":0.5,"y":4.2},{"m":"Xgen-7B","x":0.55,"y":4.2},{"m":"Xgen-7B","x":0.6,"y":4.2},{"m":"Xgen-7B","x":0.65,"y":4.3},{"m":"Xgen-7B","x":0.7,"y":4.3},{"m":"Xgen-7B","x":0.75,"y":4.2},{"m":"Xgen-7B","x":0.8,"y":4.3},{"m":"Xgen-7B","x":0.85,"y":4.2},{"m":"Xgen-7B","x":0.9,"y":4.3},{"m":"Xgen-7B","x":0.95,"y":4.2},{"m":"Xgen-7B","x":1,"y":5.9},
{"m":"Mistral-7B","x":0.05,"y":11.3},{"m":"Mistral-7B","x":0.1,"y":9.7},{"m":"Mistral-7B","x":0.15,"y":8.2},{"m":"Mistral-7B","x":0.2,"y":6.4},{"m":"Mistral-7B","x":0.25,"y":5.1},{"m":"Mistral-7B","x":0.3,"y":4.5},{"m":"Mistral-7B","x":0.35,"y":4.1},{"m":"Mistral-7B","x":0.4,"y":3.9},{"m":"Mistral-7B","x":0.45,"y":3.8},{"m":"Mistral-7B","x":0.5,"y":3.8},{"m":"Mistral-7B","x":0.55,"y":3.8},{"m":"Mistral-7B","x":0.6,"y":3.8},{"m":"Mistral-7B","x":0.65,"y":3.7},{"m":"Mistral-7B","x":0.7,"y":3.7},{"m":"Mistral-7B","x":0.75,"y":3.7},{"m":"Mistral-7B","x":0.8,"y":3.7},{"m":"Mistral-7B","x":0.85,"y":3.6},{"m":"Mistral-7B","x":0.9,"y":3.6},{"m":"Mistral-7B","x":0.95,"y":3.8},{"m":"Mistral-7B","x":1,"y":4.8}
],
"gov": [
{"m":"Reference","x":0.05,"y":6.6},{"m":"Reference","x":0.1,"y":5.5},{"m":"Reference","x":0.15,"y":5.2},{"m":"Reference","x":0.2,"y":5.2},{"m":"Reference","x":0.25,"y":5.1},{"m":"Reference","x":0.3,"y":5.0},{"m":"Reference","x":0.35,"y":5.0},{"m":"Reference","x":0.4,"y":5.0},{"m":"Reference","x":0.45,"y":5.0},{"m":"Reference","x":0.5,"y":4.9},{"m":"Reference","x":0.55,"y":4.9},{"m":"Reference","x":0.6,"y":4.9},{"m":"Reference","x":0.65,"y":4.8},{"m":"Reference","x":0.7,"y":4.9},{"m":"Reference","x":0.75,"y":5.0},{"m":"Reference","x":0.8,"y":5.0},{"m":"Reference","x":0.85,"y":5.0},{"m":"Reference","x":0.9,"y":4.9},{"m":"Reference","x":0.95,"y":4.6},{"m":"Reference","x":1,"y":3.7},
{"m":"Llama-2-7B","x":0.05,"y":8.7},{"m":"Llama-2-7B","x":0.1,"y":6.7},{"m":"Llama-2-7B","x":0.15,"y":6.6},{"m":"Llama-2-7B","x":0.2,"y":6.6},{"m":"Llama-2-7B","x":0.25,"y":6.1},{"m":"Llama-2-7B","x":0.3,"y":5.6},{"m":"Llama-2-7B","x":0.35,"y":5.2},{"m":"Llama-2-7B","x":0.4,"y":4.9},{"m":"Llama-2-7B","x":0.45,"y":4.5},{"m":"Llama-2-7B","x":0.5,"y":4.3},{"m":"Llama-2-7B","x":0.55,"y":4.1},{"m":"Llama-2-7B","x":0.6,"y":4.0},{"m":"Llama-2-7B","x":0.65,"y":3.9},{"m":"Llama-2-7B","x":0.7,"y":3.9},{"m":"Llama-2-7B","x":0.75,"y":3.8},{"m":"Llama-2-7B","x":0.8,"y":3.8},{"m":"Llama-2-7B","x":0.85,"y":3.8},{"m":"Llama-2-7B","x":0.9,"y":3.7},{"m":"Llama-2-7B","x":0.95,"y":3.5},{"m":"Llama-2-7B","x":1,"y":2.9},
{"m":"Llama-2-13B","x":0.05,"y":8.3},{"m":"Llama-2-13B","x":0.1,"y":7.0},{"m":"Llama-2-13B","x":0.15,"y":6.9},{"m":"Llama-2-13B","x":0.2,"y":6.6},{"m":"Llama-2-13B","x":0.25,"y":6.2},{"m":"Llama-2-13B","x":0.3,"y":5.8},{"m":"Llama-2-13B","x":0.35,"y":5.4},{"m":"Llama-2-13B","x":0.4,"y":5.0},{"m":"Llama-2-13B","x":0.45,"y":4.6},{"m":"Llama-2-13B","x":0.5,"y":4.3},{"m":"Llama-2-13B","x":0.55,"y":4.2},{"m":"Llama-2-13B","x":0.6,"y":4.1},{"m":"Llama-2-13B","x":0.65,"y":4.0},{"m":"Llama-2-13B","x":0.7,"y":4.1},{"m":"Llama-2-13B","x":0.75,"y":3.9},{"m":"Llama-2-13B","x":0.8,"y":3.9},{"m":"Llama-2-13B","x":0.85,"y":3.9},{"m":"Llama-2-13B","x":0.9,"y":3.8},{"m":"Llama-2-13B","x":0.95,"y":3.6},{"m":"Llama-2-13B","x":1,"y":3.0},
{"m":"Xgen-7B","x":0.05,"y":9.7},{"m":"Xgen-7B","x":0.1,"y":7.8},{"m":"Xgen-7B","x":0.15,"y":6.8},{"m":"Xgen-7B","x":0.2,"y":5.7},{"m":"Xgen-7B","x":0.25,"y":5.3},{"m":"Xgen-7B","x":0.3,"y":4.8},{"m":"Xgen-7B","x":0.35,"y":4.7},{"m":"Xgen-7B","x":0.4,"y":4.5},{"m":"Xgen-7B","x":0.45,"y":4.4},{"m":"Xgen-7B","x":0.5,"y":4.4},{"m":"Xgen-7B","x":0.55,"y":4.3},{"m":"Xgen-7B","x":0.6,"y":4.2},{"m":"Xgen-7B","x":0.65,"y":4.3},{"m":"Xgen-7B","x":0.7,"y":4.3},{"m":"Xgen-7B","x":0.75,"y":4.3},{"m":"Xgen-7B","x":0.8,"y":4.3},{"m":"Xgen-7B","x":0.85,"y":4.3},{"m":"Xgen-7B","x":0.9,"y":4.1},{"m":"Xgen-7B","x":0.95,"y":4.0},{"m":"Xgen-7B","x":1,"y":3.3},
{"m":"Mistral-7B","x":0.05,"y":11.0},{"m":"Mistral-7B","x":0.1,"y":7.9},{"m":"Mistral-7B","x":0.15,"y":7.1},{"m":"Mistral-7B","x":0.2,"y":6.7},{"m":"Mistral-7B","x":0.25,"y":6.0},{"m":"Mistral-7B","x":0.3,"y":5.2},{"m":"Mistral-7B","x":0.35,"y":4.6},{"m":"Mistral-7B","x":0.4,"y":4.4},{"m":"Mistral-7B","x":0.45,"y":4.2},{"m":"Mistral-7B","x":0.5,"y":4.1},{"m":"Mistral-7B","x":0.55,"y":3.9},{"m":"Mistral-7B","x":0.6,"y":3.8},{"m":"Mistral-7B","x":0.65,"y":3.9},{"m":"Mistral-7B","x":0.7,"y":3.9},{"m":"Mistral-7B","x":0.75,"y":4.0},{"m":"Mistral-7B","x":0.8,"y":4.0},{"m":"Mistral-7B","x":0.85,"y":4.0},{"m":"Mistral-7B","x":0.9,"y":4.0},{"m":"Mistral-7B","x":0.95,"y":3.8},{"m":"Mistral-7B","x":1,"y":3.3}
],
"summ": [
{"m":"Reference","x":0.05,"y":6.1},{"m":"Reference","x":0.1,"y":5.3},{"m":"Reference","x":0.15,"y":5.3},{"m":"Reference","x":0.2,"y":5.1},{"m":"Reference","x":0.25,"y":5.0},{"m":"Reference","x":0.3,"y":4.9},{"m":"Reference","x":0.35,"y":4.7},{"m":"Reference","x":0.4,"y":4.7},{"m":"Reference","x":0.45,"y":4.9},{"m":"Reference","x":0.5,"y":4.8},{"m":"Reference","x":0.55,"y":4.8},{"m":"Reference","x":0.6,"y":4.7},{"m":"Reference","x":0.65,"y":4.6},{"m":"Reference","x":0.7,"y":4.4},{"m":"Reference","x":0.75,"y":4.6},{"m":"Reference","x":0.8,"y":4.7},{"m":"Reference","x":0.85,"y":5.1},{"m":"Reference","x":0.9,"y":5.3},{"m":"Reference","x":0.95,"y":5.1},{"m":"Reference","x":1,"y":5.4},
{"m":"Llama-2-7B","x":0.05,"y":7.4},{"m":"Llama-2-7B","x":0.1,"y":6.0},{"m":"Llama-2-7B","x":0.15,"y":5.4},{"m":"Llama-2-7B","x":0.2,"y":5.9},{"m":"Llama-2-7B","x":0.25,"y":5.7},{"m":"Llama-2-7B","x":0.3,"y":5.8},{"m":"Llama-2-7B","x":0.35,"y":4.9},{"m":"Llama-2-7B","x":0.4,"y":4.8},{"m":"Llama-2-7B","x":0.45,"y":4.8},{"m":"Llama-2-7B","x":0.5,"y":4.6},{"m":"Llama-2-7B","x":0.55,"y":4.8},{"m":"Llama-2-7B","x":0.6,"y":4.6},{"m":"Llama-2-7B","x":0.65,"y":4.3},{"m":"Llama-2-7B","x":0.7,"y":4.4},{"m":"Llama-2-7B","x":0.75,"y":4.2},{"m":"Llama-2-7B","x":0.8,"y":4.4},{"m":"Llama-2-7B","x":0.85,"y":4.4},{"m":"Llama-2-7B","x":0.9,"y":4.4},{"m":"Llama-2-7B","x":0.95,"y":4.6},{"m":"Llama-2-7B","x":1,"y":4.2},
{"m":"Llama-2-13B","x":0.05,"y":7.7},{"m":"Llama-2-13B","x":0.1,"y":5.9},{"m":"Llama-2-13B","x":0.15,"y":5.5},{"m":"Llama-2-13B","x":0.2,"y":5.7},{"m":"Llama-2-13B","x":0.25,"y":5.4},{"m":"Llama-2-13B","x":0.3,"y":5.3},{"m":"Llama-2-13B","x":0.35,"y":5.1},{"m":"Llama-2-13B","x":0.4,"y":4.8},{"m":"Llama-2-13B","x":0.45,"y":4.7},{"m":"Llama-2-13B","x":0.5,"y":4.7},{"m":"Llama-2-13B","x":0.55,"y":4.9},{"m":"Llama-2-13B","x":0.6,"y":4.5},{"m":"Llama-2-13B","x":0.65,"y":4.3},{"m":"Llama-2-13B","x":0.7,"y":4.5},{"m":"Llama-2-13B","x":0.75,"y":4.4},{"m":"Llama-2-13B","x":0.8,"y":4.4},{"m":"Llama-2-13B","x":0.85,"y":4.2},{"m":"Llama-2-13B","x":0.9,"y":4.4},{"m":"Llama-2-13B","x":0.95,"y":4.6},{"m":"Llama-2-13B","x":1,"y":4.5},
{"m":"Xgen-7B","x":0.05,"y":6.2},{"m":"Xgen-7B","x":0.1,"y":5.2},{"m":"Xgen-7B","x":0.15,"y":4.7},{"m":"Xgen-7B","x":0.2,"y":4.9},{"m":"Xgen-7B","x":0.25,"y":4.7},{"m":"Xgen-7B","x":0.3,"y":5.0},{"m":"Xgen-7B","x":0.35,"y":4.7},{"m":"Xgen-7B","x":0.4,"y":4.8},{"m":"Xgen-7B","x":0.45,"y":4.9},{"m":"Xgen-7B","x":0.5,"y":5.0},{"m":"Xgen-7B","x":0.55,"y":5.1},{"m":"Xgen-7B","x":0.6,"y":4.7},{"m":"Xgen-7B","x":0.65,"y":5.0},{"m":"Xgen-7B","x":0.7,"y":4.8},{"m":"Xgen-7B","x":0.75,"y":4.7},{"m":"Xgen-7B","x":0.8,"y":5.0},{"m":"Xgen-7B","x":0.85,"y":5.2},{"m":"Xgen-7B","x":0.9,"y":4.9},{"m":"Xgen-7B","x":0.95,"y":5.0},{"m":"Xgen-7B","x":1,"y":4.8},
{"m":"Mistral-7B","x":0.05,"y":7.9},{"m":"Mistral-7B","x":0.1,"y":5.9},{"m":"Mistral-7B","x":0.15,"y":5.3},{"m":"Mistral-7B","x":0.2,"y":5.3},{"m":"Mistral-7B","x":0.25,"y":5.2},{"m":"Mistral-7B","x":0.3,"y":5.1},{"m":"Mistral-7B","x":0.35,"y":4.7},{"m":"Mistral-7B","x":0.4,"y":4.8},{"m":"Mistral-7B","x":0.45,"y":4.8},{"m":"Mistral-7B","x":0.5,"y":4.4},{"m":"Mistral-7B","x":0.55,"y":4.8},{"m":"Mistral-7B","x":0.6,"y":4.7},{"m":"Mistral-7B","x":0.65,"y":4.6},{"m":"Mistral-7B","x":0.7,"y":4.5},{"m":"Mistral-7B","x":0.75,"y":4.5},{"m":"Mistral-7B","x":0.8,"y":4.7},{"m":"Mistral-7B","x":0.85,"y":4.4},{"m":"Mistral-7B","x":0.9,"y":4.7},{"m":"Mistral-7B","x":0.95,"y":4.7},{"m":"Mistral-7B","x":1,"y":4.7}
],
"mnews": [
{"m":"Reference","x":0.05,"y":6.1},{"m":"Reference","x":0.1,"y":6.0},{"m":"Reference","x":0.15,"y":5.9},{"m":"Reference","x":0.2,"y":5.6},{"m":"Reference","x":0.25,"y":5.3},{"m":"Reference","x":0.3,"y":5.0},{"m":"Reference","x":0.35,"y":4.9},{"m":"Reference","x":0.4,"y":4.8},{"m":"Reference","x":0.45,"y":4.8},{"m":"Reference","x":0.5,"y":4.8},{"m":"Reference","x":0.55,"y":4.7},{"m":"Reference","x":0.6,"y":4.7},{"m":"Reference","x":0.65,"y":4.8},{"m":"Reference","x":0.7,"y":4.8},{"m":"Reference","x":0.75,"y":4.8},{"m":"Reference","x":0.8,"y":4.8},{"m":"Reference","x":0.85,"y":4.8},{"m":"Reference","x":0.9,"y":4.7},{"m":"Reference","x":0.95,"y":4.6},{"m":"Reference","x":1,"y":4.2},
{"m":"Llama-2-7B","x":0.05,"y":7.7},{"m":"Llama-2-7B","x":0.1,"y":6.0},{"m":"Llama-2-7B","x":0.15,"y":5.5},{"m":"Llama-2-7B","x":0.2,"y":4.9},{"m":"Llama-2-7B","x":0.25,"y":4.6},{"m":"Llama-2-7B","x":0.3,"y":4.4},{"m":"Llama-2-7B","x":0.35,"y":4.4},{"m":"Llama-2-7B","x":0.4,"y":4.5},{"m":"Llama-2-7B","x":0.45,"y":4.6},{"m":"Llama-2-7B","x":0.5,"y":4.6},{"m":"Llama-2-7B","x":0.55,"y":4.4},{"m":"Llama-2-7B","x":0.6,"y":4.6},{"m":"Llama-2-7B","x":0.65,"y":4.9},{"m":"Llama-2-7B","x":0.7,"y":4.7},{"m":"Llama-2-7B","x":0.75,"y":4.6},{"m":"Llama-2-7B","x":0.8,"y":4.7},{"m":"Llama-2-7B","x":0.85,"y":4.8},{"m":"Llama-2-7B","x":0.9,"y":4.8},{"m":"Llama-2-7B","x":0.95,"y":4.8},{"m":"Llama-2-7B","x":1,"y":4.7},
{"m":"Llama-2-13B","x":0.05,"y":7.1},{"m":"Llama-2-13B","x":0.1,"y":5.5},{"m":"Llama-2-13B","x":0.15,"y":4.9},{"m":"Llama-2-13B","x":0.2,"y":4.6},{"m":"Llama-2-13B","x":0.25,"y":4.5},{"m":"Llama-2-13B","x":0.3,"y":4.4},{"m":"Llama-2-13B","x":0.35,"y":4.4},{"m":"Llama-2-13B","x":0.4,"y":4.5},{"m":"Llama-2-13B","x":0.45,"y":4.3},{"m":"Llama-2-13B","x":0.5,"y":4.6},{"m":"Llama-2-13B","x":0.55,"y":4.5},{"m":"Llama-2-13B","x":0.6,"y":4.7},{"m":"Llama-2-13B","x":0.65,"y":5.0},{"m":"Llama-2-13B","x":0.7,"y":4.9},{"m":"Llama-2-13B","x":0.75,"y":5.1},{"m":"Llama-2-13B","x":0.8,"y":5.0},{"m":"Llama-2-13B","x":0.85,"y":5.1},{"m":"Llama-2-13B","x":0.9,"y":5.3},{"m":"Llama-2-13B","x":0.95,"y":5.5},{"m":"Llama-2-13B","x":1,"y":5.7},
{"m":"Xgen-7B","x":0.05,"y":10.7},{"m":"Xgen-7B","x":0.1,"y":8.0},{"m":"Xgen-7B","x":0.15,"y":6.6},{"m":"Xgen-7B","x":0.2,"y":6.0},{"m":"Xgen-7B","x":0.25,"y":5.5},{"m":"Xgen-7B","x":0.3,"y":5.2},{"m":"Xgen-7B","x":0.35,"y":5.1},{"m":"Xgen-7B","x":0.4,"y":4.8},{"m":"Xgen-7B","x":0.45,"y":4.6},{"m":"Xgen-7B","x":0.5,"y":4.4},{"m":"Xgen-7B","x":0.55,"y":4.1},{"m":"Xgen-7B","x":0.6,"y":4.3},{"m":"Xgen-7B","x":0.65,"y":4.1},{"m":"Xgen-7B","x":0.7,"y":4.0},{"m":"Xgen-7B","x":0.75,"y":4.0},{"m":"Xgen-7B","x":0.8,"y":3.7},{"m":"Xgen-7B","x":0.85,"y":3.7},{"m":"Xgen-7B","x":0.9,"y":3.7},{"m":"Xgen-7B","x":0.95,"y":3.6},{"m":"Xgen-7B","x":1,"y":3.3},
{"m":"Mistral-7B","x":0.05,"y":8.0},{"m":"Mistral-7B","x":0.1,"y":7.1},{"m":"Mistral-7B","x":0.15,"y":6.5},{"m":"Mistral-7B","x":0.2,"y":6.0},{"m":"Mistral-7B","x":0.25,"y":5.9},{"m":"Mistral-7B","x":0.3,"y":5.2},{"m":"Mistral-7B","x":0.35,"y":5.0},{"m":"Mistral-7B","x":0.4,"y":4.9},{"m":"Mistral-7B","x":0.45,"y":4.7},{"m":"Mistral-7B","x":0.5,"y":4.5},{"m":"Mistral-7B","x":0.55,"y":4.3},{"m":"Mistral-7B","x":0.6,"y":4.5},{"m":"Mistral-7B","x":0.65,"y":4.5},{"m":"Mistral-7B","x":0.7,"y":4.3},{"m":"Mistral-7B","x":0.75,"y":4.1},{"m":"Mistral-7B","x":0.8,"y":3.9},{"m":"Mistral-7B","x":0.85,"y":3.8},{"m":"Mistral-7B","x":0.9,"y":4.0},{"m":"Mistral-7B","x":0.95,"y":4.1},{"m":"Mistral-7B","x":1,"y":3.7}
]
},
"columns": 5,
"bounds": "flush",
"spacing": {"row": 76, "column": 46},
"concat": [
{"title": {"text": "CNN/DM", "offset": 4}, "width": 180, "height": 160, "layer": [
 {"data": {"name": "cnndm"}, "encoding": {"x": {"field": "x", "type": "quantitative", "scale": {"domain": [0.0025, 1.0475], "nice": false, "zero": false}, "axis": {"values": [0.2, 0.4, 0.6, 0.8, 1.0], "format": ".1f", "title": "Relative location"}}, "y": {"field": "y", "type": "quantitative", "scale": {"domain": [0, 18], "nice": false, "zero": false}, "axis": {"values": [0, 5, 10, 15], "title": "Density (%)"}}},
  "layer": [
  {"transform": [{"filter": "datum.m === 'Reference'"}], "mark": {"type": "line", "strokeJoin": "round"}, "encoding": {"color": {"field": "m", "type": "nominal", "scale": {"domain": ["Reference", "Flan-UL2", "Llama-2-7B", "Llama-2-13B", "Xgen-7B", "Mistral-7B", "Uniform baseline"], "range": ["#FDB93C", "#FF0000", "#0000FF", "#008000", "#800080", "#A0522D", "#000000"]}, "legend": {"title": null}}, "strokeWidth": {"field": "m", "type": "nominal", "scale": {"domain": ["Reference", "Flan-UL2", "Llama-2-7B", "Llama-2-13B", "Xgen-7B", "Mistral-7B", "Uniform baseline"], "range": [5.5, 1.3, 1.3, 1.3, 1.3, 1.3, 1.3]}, "legend": {"title": null}}}},
  {"transform": [{"filter": "datum.m !== 'Reference'"}], "mark": {"type": "line", "strokeWidth": 1.2}, "encoding": {"color": {"field": "m", "type": "nominal", "legend": null}}},
  {"transform": [{"filter": "datum.m !== 'Reference'"}], "mark": {"type": "point", "filled": true, "size": 12, "opacity": 1}, "encoding": {"color": {"field": "m", "type": "nominal", "legend": null}, "shape": {"field": "m", "type": "nominal", "scale": {"domain": ["Flan-UL2", "Llama-2-7B", "Llama-2-13B", "Xgen-7B", "Mistral-7B"], "range": ["cross", "circle", "square", "triangle-left", "triangle-right"]}, "legend": null}}}
 ]},
 {"data": {"values": [{}]}, "mark": {"type": "rule", "color": "#000", "strokeWidth": 1.3}, "encoding": {"y": {"datum": 5, "type": "quantitative", "axis": {"values": [0, 5, 10, 15], "title": "Density (%)"}}}}
]},
{"title": {"text": "XSum", "offset": 4}, "width": 180, "height": 160, "layer": [
 {"data": {"name": "xsum"}, "encoding": {"x": {"field": "x", "type": "quantitative", "scale": {"domain": [0.0025, 1.0475], "nice": false, "zero": false}, "axis": {"values": [0.2, 0.4, 0.6, 0.8, 1.0], "format": ".1f", "title": "Relative location"}}, "y": {"field": "y", "type": "quantitative", "scale": {"domain": [0, 18], "nice": false, "zero": false}, "axis": {"values": [0, 5, 10, 15], "title": null}}},
  "layer": [
  {"transform": [{"filter": "datum.m === 'Reference'"}], "mark": {"type": "line", "strokeJoin": "round"}, "encoding": {"color": {"field": "m", "type": "nominal", "legend": {"title": null}}, "strokeWidth": {"field": "m", "type": "nominal", "legend": {"title": null}}}},
  {"transform": [{"filter": "datum.m !== 'Reference'"}], "mark": {"type": "line", "strokeWidth": 1.2}, "encoding": {"color": {"field": "m", "type": "nominal", "legend": null}}},
  {"transform": [{"filter": "datum.m !== 'Reference'"}], "mark": {"type": "point", "filled": true, "size": 12, "opacity": 1}, "encoding": {"color": {"field": "m", "type": "nominal", "legend": null}, "shape": {"field": "m", "type": "nominal", "legend": null}}}
 ]},
 {"data": {"values": [{}]}, "mark": {"type": "rule", "color": "#000", "strokeWidth": 1.3}, "encoding": {"y": {"datum": 5, "type": "quantitative", "axis": {"values": [0, 5, 10, 15], "title": null}}}}
]},
{"title": {"text": "Reddit-TIFU", "offset": -2}, "width": 180, "height": 160, "layer": [
 {"data": {"name": "reddit"}, "encoding": {"x": {"field": "x", "type": "quantitative", "scale": {"domain": [0.0025, 1.0475], "nice": false, "zero": false}, "axis": {"values": [0.2, 0.4, 0.6, 0.8, 1.0], "format": ".1f", "title": "Relative location"}}, "y": {"field": "y", "type": "quantitative", "scale": {"domain": [2, 12], "nice": false, "zero": false}, "axis": {"values": [2, 4, 6, 8, 10, 12], "title": null}}},
  "layer": [
  {"transform": [{"filter": "datum.m === 'Reference'"}], "mark": {"type": "line", "strokeJoin": "round"}, "encoding": {"color": {"field": "m", "type": "nominal", "legend": {"title": null}}, "strokeWidth": {"field": "m", "type": "nominal", "legend": {"title": null}}}},
  {"transform": [{"filter": "datum.m !== 'Reference'"}], "mark": {"type": "line", "strokeWidth": 1.2}, "encoding": {"color": {"field": "m", "type": "nominal", "legend": null}}},
  {"transform": [{"filter": "datum.m !== 'Reference'"}], "mark": {"type": "point", "filled": true, "size": 12, "opacity": 1}, "encoding": {"color": {"field": "m", "type": "nominal", "legend": null}, "shape": {"field": "m", "type": "nominal", "legend": null}}}
 ]},
 {"data": {"values": [{}]}, "mark": {"type": "rule", "color": "#000", "strokeWidth": 1.3}, "encoding": {"y": {"datum": 5, "type": "quantitative", "axis": {"values": [2, 4, 6, 8, 10, 12], "title": null}}}}
]},
{"title": {"text": "SAMSum", "offset": -2}, "width": 180, "height": 160, "layer": [
 {"data": {"name": "samsum"}, "encoding": {"x": {"field": "x", "type": "quantitative", "scale": {"domain": [0.0025, 1.0475], "nice": false, "zero": false}, "axis": {"values": [0.2, 0.4, 0.6, 0.8, 1.0], "format": ".1f", "title": "Relative location"}}, "y": {"field": "y", "type": "quantitative", "scale": {"domain": [2, 12], "nice": false, "zero": false}, "axis": {"values": [2, 4, 6, 8, 10, 12], "title": null}}},
  "layer": [
  {"transform": [{"filter": "datum.m === 'Reference'"}], "mark": {"type": "line", "strokeJoin": "round"}, "encoding": {"color": {"field": "m", "type": "nominal", "legend": {"title": null}}, "strokeWidth": {"field": "m", "type": "nominal", "legend": {"title": null}}}},
  {"transform": [{"filter": "datum.m !== 'Reference'"}], "mark": {"type": "line", "strokeWidth": 1.2}, "encoding": {"color": {"field": "m", "type": "nominal", "legend": null}}},
  {"transform": [{"filter": "datum.m !== 'Reference'"}], "mark": {"type": "point", "filled": true, "size": 12, "opacity": 1}, "encoding": {"color": {"field": "m", "type": "nominal", "legend": null}, "shape": {"field": "m", "type": "nominal", "legend": null}}}
 ]},
 {"data": {"values": [{}]}, "mark": {"type": "rule", "color": "#000", "strokeWidth": 1.3}, "encoding": {"y": {"datum": 5, "type": "quantitative", "axis": {"values": [2, 4, 6, 8, 10, 12], "title": null}}}}
]},
{"title": {"text": "Multi-XScience", "offset": -2}, "width": 180, "height": 160, "layer": [
 {"data": {"name": "mxs"}, "encoding": {"x": {"field": "x", "type": "quantitative", "scale": {"domain": [0.0025, 1.0475], "nice": false, "zero": false}, "axis": {"values": [0.2, 0.4, 0.6, 0.8, 1.0], "format": ".1f", "title": "Relative location"}}, "y": {"field": "y", "type": "quantitative", "scale": {"domain": [2, 12], "nice": false, "zero": false}, "axis": {"values": [2, 4, 6, 8, 10, 12], "title": null}}},
  "layer": [
  {"transform": [{"filter": "datum.m === 'Reference'"}], "mark": {"type": "line", "strokeJoin": "round"}, "encoding": {"color": {"field": "m", "type": "nominal", "legend": {"title": null}}, "strokeWidth": {"field": "m", "type": "nominal", "legend": {"title": null}}}},
  {"transform": [{"filter": "datum.m !== 'Reference'"}], "mark": {"type": "line", "strokeWidth": 1.2}, "encoding": {"color": {"field": "m", "type": "nominal", "legend": null}}},
  {"transform": [{"filter": "datum.m !== 'Reference'"}], "mark": {"type": "point", "filled": true, "size": 12, "opacity": 1}, "encoding": {"color": {"field": "m", "type": "nominal", "legend": null}, "shape": {"field": "m", "type": "nominal", "legend": null}}}
 ]},
 {"data": {"values": [{}]}, "mark": {"type": "rule", "color": "#000", "strokeWidth": 1.3}, "encoding": {"y": {"datum": 5, "type": "quantitative", "axis": {"values": [2, 4, 6, 8, 10, 12], "title": null}}}}
]},
{"title": {"text": "Arxiv", "offset": -2}, "width": 180, "height": 160, "layer": [
 {"data": {"name": "arxiv"}, "encoding": {"x": {"field": "x", "type": "quantitative", "scale": {"domain": [0.0025, 1.0475], "nice": false, "zero": false}, "axis": {"values": [0.2, 0.4, 0.6, 0.8, 1.0], "format": ".1f", "title": "Relative location"}}, "y": {"field": "y", "type": "quantitative", "scale": {"domain": [2, 12], "nice": false, "zero": false}, "axis": {"values": [2, 4, 6, 8, 10, 12], "title": "Density (%)"}}},
  "layer": [
  {"transform": [{"filter": "datum.m === 'Reference'"}], "mark": {"type": "line", "strokeJoin": "round"}, "encoding": {"color": {"field": "m", "type": "nominal", "legend": {"title": null}}, "strokeWidth": {"field": "m", "type": "nominal", "legend": {"title": null}}}},
  {"transform": [{"filter": "datum.m !== 'Reference'"}], "mark": {"type": "line", "strokeWidth": 1.2}, "encoding": {"color": {"field": "m", "type": "nominal", "legend": null}}},
  {"transform": [{"filter": "datum.m !== 'Reference'"}], "mark": {"type": "point", "filled": true, "size": 12, "opacity": 1}, "encoding": {"color": {"field": "m", "type": "nominal", "legend": null}, "shape": {"field": "m", "type": "nominal", "legend": null}}}
 ]},
 {"data": {"values": [{}]}, "mark": {"type": "rule", "color": "#000", "strokeWidth": 1.3}, "encoding": {"y": {"datum": 5, "type": "quantitative", "axis": {"values": [2, 4, 6, 8, 10, 12], "title": "Density (%)"}}}}
]},
{"title": {"text": "PubMed", "offset": -2}, "width": 180, "height": 160, "layer": [
 {"data": {"name": "pubmed"}, "encoding": {"x": {"field": "x", "type": "quantitative", "scale": {"domain": [0.0025, 1.0475], "nice": false, "zero": false}, "axis": {"values": [0.2, 0.4, 0.6, 0.8, 1.0], "format": ".1f", "title": "Relative location"}}, "y": {"field": "y", "type": "quantitative", "scale": {"domain": [2, 12], "nice": false, "zero": false}, "axis": {"values": [2, 4, 6, 8, 10, 12], "title": null}}},
  "layer": [
  {"transform": [{"filter": "datum.m === 'Reference'"}], "mark": {"type": "line", "strokeJoin": "round"}, "encoding": {"color": {"field": "m", "type": "nominal", "legend": {"title": null}}, "strokeWidth": {"field": "m", "type": "nominal", "legend": {"title": null}}}},
  {"transform": [{"filter": "datum.m !== 'Reference'"}], "mark": {"type": "line", "strokeWidth": 1.2}, "encoding": {"color": {"field": "m", "type": "nominal", "legend": null}}},
  {"transform": [{"filter": "datum.m !== 'Reference'"}], "mark": {"type": "point", "filled": true, "size": 12, "opacity": 1}, "encoding": {"color": {"field": "m", "type": "nominal", "legend": null}, "shape": {"field": "m", "type": "nominal", "legend": null}}}
 ]},
 {"data": {"values": [{}]}, "mark": {"type": "rule", "color": "#000", "strokeWidth": 1.3}, "encoding": {"y": {"datum": 5, "type": "quantitative", "axis": {"values": [2, 4, 6, 8, 10, 12], "title": null}}}}
]},
{"title": {"text": "GovReport", "offset": -2}, "width": 180, "height": 160, "layer": [
 {"data": {"name": "gov"}, "encoding": {"x": {"field": "x", "type": "quantitative", "scale": {"domain": [0.0025, 1.0475], "nice": false, "zero": false}, "axis": {"values": [0.2, 0.4, 0.6, 0.8, 1.0], "format": ".1f", "title": "Relative location"}}, "y": {"field": "y", "type": "quantitative", "scale": {"domain": [2, 12], "nice": false, "zero": false}, "axis": {"values": [2, 4, 6, 8, 10, 12], "title": null}}},
  "layer": [
  {"transform": [{"filter": "datum.m === 'Reference'"}], "mark": {"type": "line", "strokeJoin": "round"}, "encoding": {"color": {"field": "m", "type": "nominal", "legend": {"title": null}}, "strokeWidth": {"field": "m", "type": "nominal", "legend": {"title": null}}}},
  {"transform": [{"filter": "datum.m !== 'Reference'"}], "mark": {"type": "line", "strokeWidth": 1.2}, "encoding": {"color": {"field": "m", "type": "nominal", "legend": null}}},
  {"transform": [{"filter": "datum.m !== 'Reference'"}], "mark": {"type": "point", "filled": true, "size": 12, "opacity": 1}, "encoding": {"color": {"field": "m", "type": "nominal", "legend": null}, "shape": {"field": "m", "type": "nominal", "legend": null}}}
 ]},
 {"data": {"values": [{}]}, "mark": {"type": "rule", "color": "#000", "strokeWidth": 1.3}, "encoding": {"y": {"datum": 5, "type": "quantitative", "axis": {"values": [2, 4, 6, 8, 10, 12], "title": null}}}}
]},
{"title": {"text": "SummScreen", "offset": -2}, "width": 180, "height": 160, "layer": [
 {"data": {"name": "summ"}, "encoding": {"x": {"field": "x", "type": "quantitative", "scale": {"domain": [0.0025, 1.0475], "nice": false, "zero": false}, "axis": {"values": [0.2, 0.4, 0.6, 0.8, 1.0], "format": ".1f", "title": "Relative location"}}, "y": {"field": "y", "type": "quantitative", "scale": {"domain": [2, 12], "nice": false, "zero": false}, "axis": {"values": [2, 4, 6, 8, 10, 12], "title": null}}},
  "layer": [
  {"transform": [{"filter": "datum.m === 'Reference'"}], "mark": {"type": "line", "strokeJoin": "round"}, "encoding": {"color": {"field": "m", "type": "nominal", "legend": {"title": null}}, "strokeWidth": {"field": "m", "type": "nominal", "legend": {"title": null}}}},
  {"transform": [{"filter": "datum.m !== 'Reference'"}], "mark": {"type": "line", "strokeWidth": 1.2}, "encoding": {"color": {"field": "m", "type": "nominal", "legend": null}}},
  {"transform": [{"filter": "datum.m !== 'Reference'"}], "mark": {"type": "point", "filled": true, "size": 12, "opacity": 1}, "encoding": {"color": {"field": "m", "type": "nominal", "legend": null}, "shape": {"field": "m", "type": "nominal", "legend": null}}}
 ]},
 {"data": {"values": [{}]}, "mark": {"type": "rule", "color": "#000", "strokeWidth": 1.3}, "encoding": {"y": {"datum": 5, "type": "quantitative", "axis": {"values": [2, 4, 6, 8, 10, 12], "title": null}}}}
]},
{"title": {"text": "Multi-News", "offset": -2}, "width": 180, "height": 160, "layer": [
 {"data": {"name": "mnews"}, "encoding": {"x": {"field": "x", "type": "quantitative", "scale": {"domain": [0.0025, 1.0475], "nice": false, "zero": false}, "axis": {"values": [0.2, 0.4, 0.6, 0.8, 1.0], "format": ".1f", "title": "Relative location"}}, "y": {"field": "y", "type": "quantitative", "scale": {"domain": [2, 12], "nice": false, "zero": false}, "axis": {"values": [2, 4, 6, 8, 10, 12], "title": null}}},
  "layer": [
  {"transform": [{"filter": "datum.m === 'Reference'"}], "mark": {"type": "line", "strokeJoin": "round"}, "encoding": {"color": {"field": "m", "type": "nominal", "legend": {"title": null}}, "strokeWidth": {"field": "m", "type": "nominal", "legend": {"title": null}}}},
  {"transform": [{"filter": "datum.m !== 'Reference'"}], "mark": {"type": "line", "strokeWidth": 1.2}, "encoding": {"color": {"field": "m", "type": "nominal", "legend": null}}},
  {"transform": [{"filter": "datum.m !== 'Reference'"}], "mark": {"type": "point", "filled": true, "size": 12, "opacity": 1}, "encoding": {"color": {"field": "m", "type": "nominal", "legend": null}, "shape": {"field": "m", "type": "nominal", "legend": null}}}
 ]},
 {"data": {"values": [{}]}, "mark": {"type": "rule", "color": "#000", "strokeWidth": 1.3}, "encoding": {"y": {"datum": 5, "type": "quantitative", "axis": {"values": [2, 4, 6, 8, 10, 12], "title": null}}}}
]}
]
}
